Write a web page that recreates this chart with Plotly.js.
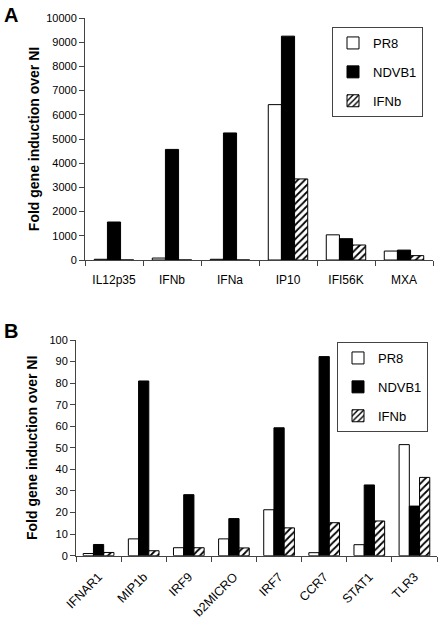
<!DOCTYPE html>
<html>
<head>
<meta charset="utf-8">
<script src="https://cdn.plot.ly/plotly-3.0.1.min.js"></script>
<style>html,body{margin:0;padding:0;background:#fff;}#chart{width:442px;height:623px;}</style>
</head>
<body>
<div id="chart"></div>
<script>
// Panel A data
const genesA = ["IL12p35", "IFNb", "IFNa", "IP10", "IFI56K", "MXA"];
const pr8A   = [30, 80, 30, 6420, 1040, 370];
const ndvA   = [1570, 4570, 5250, 9250, 880, 410];
const ifnbA  = [0, 0, 0, 3350, 620, 180];

// Panel B data
const genesB = ["IFNAR1", "MIP1b", "IRF9", "b2MICRO", "IRF7", "CCR7", "STAT1", "TLR3"];
const pr8B   = [1.0, 7.8, 3.7, 7.8, 21.3, 1.4, 5.1, 51.5];
const ndvB   = [5.2, 81.0, 28.3, 17.2, 59.3, 92.3, 32.8, 23.0];
const ifnbB  = [1.5, 2.3, 3.7, 3.6, 12.9, 15.3, 16.1, 36.3];

const seriesNames = ["PR8", "NDVB1", "IFNb"];

const FONT = "Liberation Sans, Arial, sans-serif";
const line = {color: "#000", width: 1};

function styles(i) {
  if (i === 0) return {color: "#fff", line: line};
  if (i === 1) return {color: "#000", line: line};
  return {color: "#fff", line: line,
          pattern: {shape: "/", fgcolor: "#000", bgcolor: "#fff", size: 5, solidity: 0.35}};
}

const traces = [];
[pr8A, ndvA, ifnbA].forEach((v, i) => {
  traces.push({type: "bar", x: genesA, y: v, name: seriesNames[i], marker: styles(i),
    xaxis: "x", yaxis: "y", legend: "legend", legendgroup: "a" + i});
});
[pr8B, ndvB, ifnbB].forEach((v, i) => {
  traces.push({type: "bar", x: genesB, y: v, name: seriesNames[i], marker: styles(i),
    xaxis: "x2", yaxis: "y2", legend: "legend2", legendgroup: "b" + i});
});

const W = 442, H = 623;
const axCommon = {showline: true, linecolor: "#444", linewidth: 1, ticks: "outside",
  ticklen: 5, tickcolor: "#444", showgrid: false, zeroline: false,
  tickfont: {family: FONT, size: 11, color: "#000"}};
const titleFont = {family: FONT, size: 14, color: "#000", weight: "bold"};

const legendCommon = {bordercolor: "#444", borderwidth: 1, bgcolor: "#fff",
  font: {family: FONT, size: 13, color: "#000"}, traceorder: "grouped",
  tracegroupgap: 9, itemwidth: 30, xanchor: "right", yanchor: "top"};

const layout = {
  width: W, height: H,
  margin: {l: 0, r: 0, t: 0, b: 0},
  paper_bgcolor: "#fff", plot_bgcolor: "#fff",
  barmode: "group", bargap: 0.32, bargroupgap: 0,
  font: {family: FONT, color: "#000"},
  xaxis: Object.assign({}, axCommon, {domain: [85/W, 433/W], anchor: "y",
    tickson: "boundaries", ticklabelstandoff: 9,
    tickfont: {family: FONT, size: 12, color: "#000"}}),
  yaxis: Object.assign({}, axCommon, {domain: [1 - 260/H, 1 - 18/H], anchor: "x",
    range: [0, 10000], dtick: 1000, tickformat: "d",
    title: {text: "Fold gene induction over NI", font: titleFont, standoff: 3}}),
  xaxis2: Object.assign({}, axCommon, {domain: [76/W, 437/W], anchor: "y2",
    tickson: "boundaries", tickangle: -45, ticklabelstandoff: 8,
    tickfont: {family: FONT, size: 12.5, color: "#000"}}),
  yaxis2: Object.assign({}, axCommon, {domain: [1 - 555.7/H, 1 - 340/H], anchor: "x2",
    range: [0, 100], dtick: 10,
    title: {text: "Fold gene induction over NI", font: titleFont, standoff: 8}}),
  legend: Object.assign({}, legendCommon, {x: 423/W, y: 1 - 27/H}),
  legend2: Object.assign({}, legendCommon, {x: 428/W, y: 1 - 342/H}),
  showlegend: true,
  annotations: [
    {text: "<b>A</b>", x: 2/W, y: 1 - 2/H, xref: "paper", yref: "paper", xanchor: "left", yanchor: "top",
     showarrow: false, font: {family: FONT, size: 20, color: "#000"}},
    {text: "<b>B</b>", x: 2/W, y: 1 - 318/H, xref: "paper", yref: "paper", xanchor: "left", yanchor: "top",
     showarrow: false, font: {family: FONT, size: 20, color: "#000"}}
  ]
};

Plotly.newPlot("chart", traces, layout, {displayModeBar: false, staticPlot: true});
</script>
</body>
</html>
